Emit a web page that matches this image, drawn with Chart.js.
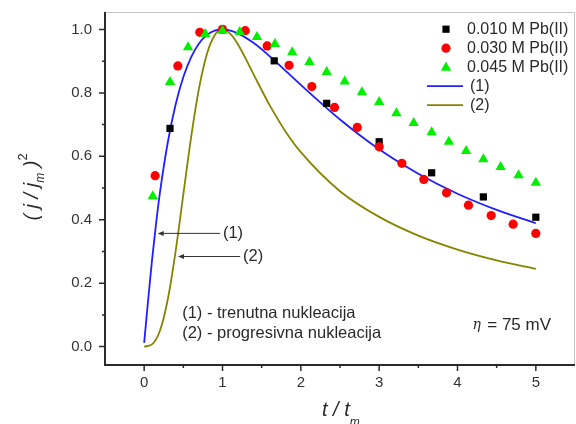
<!DOCTYPE html>
<html>
<head>
<meta charset="utf-8">
<title>Normalizovane strujne krive - nukleacija Pb(II)</title>
<script src="https://cdn.jsdelivr.net/npm/chart.js"></script>
<style>
  html, body { margin: 0; padding: 0; background: #fff; }
</style>
</head>
<body>
<canvas id="chart" width="576" height="424"></canvas>
<script>
// teorijske krive: (1) trenutna, (2) progresivna nukleacija
var instX = [0, 0.05, 0.1, 0.15, 0.2, 0.3, 0.4, 0.5, 0.6, 0.7, 0.8, 0.9, 1.0, 1.2, 1.4, 1.6, 1.8, 2.0, 2.5, 3.0, 3.5, 4.0, 4.5, 5.0];
var instY = [0.012, 0.145, 0.272, 0.384, 0.483, 0.642, 0.762, 0.850, 0.913, 0.956, 0.982, 0.996, 1.0, 0.987, 0.957, 0.916, 0.871, 0.825, 0.716, 0.622, 0.545, 0.482, 0.431, 0.389];
var progX = [0, 0.1, 0.2, 0.3, 0.4, 0.5, 0.6, 0.7, 0.8, 0.9, 1.0, 1.1, 1.2, 1.4, 1.6, 1.8, 2.0, 2.5, 3.0, 3.5, 4.0, 4.5, 5.0];
var progY = [0, 0.007, 0.049, 0.147, 0.298, 0.480, 0.661, 0.814, 0.922, 0.982, 1.0, 0.986, 0.952, 0.857, 0.762, 0.680, 0.613, 0.490, 0.409, 0.350, 0.306, 0.272, 0.245];

// eksperimentalne tacke
var x010 = [0.33, 1.0, 1.66, 2.33, 3.0, 3.67, 4.33, 5.0];
var y010 = [0.688, 1.0, 0.901, 0.767, 0.646, 0.548, 0.472, 0.408];
var x030 = [0.14, 0.43, 0.71, 1.0, 1.29, 1.57, 1.85, 2.14, 2.43, 2.72, 3.0, 3.29, 3.57, 3.86, 4.14, 4.43, 4.71, 5.0];
var y030 = [0.539, 0.885, 0.991, 1.0, 0.996, 0.948, 0.887, 0.820, 0.754, 0.691, 0.630, 0.578, 0.527, 0.485, 0.446, 0.413, 0.386, 0.357];
var x045 = [0.11, 0.33, 0.56, 0.78, 1.0, 1.22, 1.44, 1.67, 1.89, 2.11, 2.33, 2.56, 2.78, 3.0, 3.22, 3.44, 3.67, 3.89, 4.11, 4.33, 4.55, 4.78, 5.0];
var y045 = [0.474, 0.834, 0.944, 0.986, 0.996, 0.992, 0.976, 0.954, 0.928, 0.897, 0.866, 0.836, 0.802, 0.771, 0.736, 0.705, 0.676, 0.646, 0.617, 0.591, 0.566, 0.540, 0.517];

var legendLabels = ['0.010 M Pb(II)', '0.030 M Pb(II)', '0.045 M Pb(II)', '(1)', '(2)'];
var xTicks = [0, 1, 2, 3, 4, 5];
var yTicks = [0, 0.2, 0.4, 0.6, 0.8, 1.0];

var BLUE = '#1f1fff', OLIVE = '#858500', GREEN = '#00f000';
var FONT = '"Liberation Sans", Arial, sans-serif';

function pts(xs, ys) {
    return xs.map(function (x, i) { return { x: x, y: ys[i] }; });
}

function drawSym(ctx, kind, color, x, y) {
    ctx.fillStyle = color;
    ctx.beginPath();
    if (kind === 'rect') {
        ctx.rect(x - 3.6, y - 3.6, 7.2, 7.2);
    } else if (kind === 'circle') {
        ctx.arc(x, y, 4.6, 0, Math.PI * 2);
    } else {
        ctx.moveTo(x, y - 5.6);
        ctx.lineTo(x + 5.2, y + 3.6);
        ctx.lineTo(x - 5.2, y + 3.6);
        ctx.closePath();
    }
    ctx.fill();
}

// okvir, podeoci, legenda i tekstovi
var decor = {
    id: 'decor',
    afterDraw: function (chart) {
        var ctx = chart.ctx, ca = chart.chartArea;
        var xs = chart.scales.x, ys = chart.scales.y;
        ctx.save();

        ctx.strokeStyle = '#c4c4c4';
        ctx.lineWidth = 1;
        ctx.beginPath();
        ctx.moveTo(ca.left, ca.top + 0.5);
        ctx.lineTo(ca.right - 0.5, ca.top + 0.5);
        ctx.lineTo(ca.right - 0.5, ca.bottom);
        ctx.stroke();

        ctx.strokeStyle = '#2a2a2a';
        ctx.lineWidth = 2;
        ctx.beginPath();
        ctx.moveTo(ca.left, ca.top);
        ctx.lineTo(ca.left, ca.bottom);
        ctx.lineTo(ca.right, ca.bottom);
        ctx.stroke();

        ctx.lineWidth = 1.5;
        ctx.beginPath();
        xTicks.forEach(function (v, i) {
            var p = xs.getPixelForValue(v);
            ctx.moveTo(p, ca.bottom); ctx.lineTo(p, ca.bottom + 6);
            if (i < xTicks.length - 1) {
                var m = xs.getPixelForValue((v + xTicks[i + 1]) / 2);
                ctx.moveTo(m, ca.bottom); ctx.lineTo(m, ca.bottom + 3);
            }
        });
        yTicks.forEach(function (v, i) {
            var p = ys.getPixelForValue(v);
            ctx.moveTo(ca.left, p); ctx.lineTo(ca.left - 6, p);
            if (i < yTicks.length - 1) {
                var m = ys.getPixelForValue((v + yTicks[i + 1]) / 2);
                ctx.moveTo(ca.left, m); ctx.lineTo(ca.left - 3, m);
            }
        });
        ctx.stroke();

        // legenda
        var syms = [['rect', '#000'], ['circle', '#ff0000'], ['tri', GREEN]];
        var lx = ca.right - 129, rowY = ca.top + 17.2, step = 19;
        ctx.font = '16px ' + FONT;
        ctx.textBaseline = 'middle';
        legendLabels.forEach(function (lab, i) {
            var y = rowY + i * step;
            if (i < 3) {
                drawSym(ctx, syms[i][0], syms[i][1], lx, y);
                ctx.fillStyle = '#2a2a2a';
                ctx.fillText(lab, lx + 21, y);
            } else {
                ctx.strokeStyle = i === 3 ? BLUE : OLIVE;
                ctx.lineWidth = 1.8;
                ctx.beginPath();
                ctx.moveTo(lx - 19, y); ctx.lineTo(lx + 17, y);
                ctx.stroke();
                ctx.fillStyle = '#2a2a2a';
                ctx.fillText(lab, lx + 24, y);
            }
        });

        // strelice
        ctx.strokeStyle = '#333';
        ctx.lineWidth = 1;
        [[0.97, 0.173, 0.357, '(1)', 1.005], [1.225, 0.433, 0.284, '(2)', 1.263]].forEach(function (a) {
            var x0 = xs.getPixelForValue(a[0]), x1 = xs.getPixelForValue(a[1]), y = ys.getPixelForValue(a[2]);
            ctx.beginPath();
            ctx.moveTo(x0, y); ctx.lineTo(x1 + 4, y);
            ctx.stroke();
            ctx.fillStyle = '#333';
            ctx.beginPath();
            ctx.moveTo(x1, y); ctx.lineTo(x1 + 6, y - 2.5); ctx.lineTo(x1 + 6, y + 2.5);
            ctx.closePath();
            ctx.fill();
            ctx.font = '16.5px ' + FONT;
            ctx.fillStyle = '#2a2a2a';
            ctx.fillText(a[3], xs.getPixelForValue(a[4]), y);
        });

        ctx.font = '16.5px ' + FONT;
        ctx.fillStyle = '#2a2a2a';
        ctx.fillText('(1) - trenutna nukleacija', xs.getPixelForValue(0.485), ys.getPixelForValue(0.106));
        ctx.fillText('(2) - progresivna nukleacija', xs.getPixelForValue(0.485), ys.getPixelForValue(0.043));
        ctx.font = 'italic 14px "DejaVu Serif", serif';
        ctx.fillText('\u03B7', xs.getPixelForValue(4.19), ys.getPixelForValue(0.068));
        ctx.font = '17px ' + FONT;
        ctx.fillText('= 75 mV', xs.getPixelForValue(4.38), ys.getPixelForValue(0.068));

        // naslovi osa
        ctx.textBaseline = 'alphabetic';
        var big = 'italic 20px ' + FONT, small = 'italic 12px ' + FONT, up = '13px ' + FONT;
        var tx = 322;
        ctx.font = big; ctx.fillText('t / t', tx, 416);
        tx += ctx.measureText('t / t').width;
        ctx.font = small; ctx.fillText('m', tx, 426);

        ctx.translate(38, 187);
        ctx.rotate(-Math.PI / 2);
        var parts = [['( j / j', big, 0], ['m', small, 6], [' )', big, 0], ['2', up, -11]];
        var w = 0;
        parts.forEach(function (p) { ctx.font = p[1]; w += ctx.measureText(p[0]).width; });
        var cx = -w / 2;
        parts.forEach(function (p) {
            ctx.font = p[1];
            ctx.fillText(p[0], cx, p[2]);
            cx += ctx.measureText(p[0]).width;
        });
        ctx.restore();
    }
};

var ctx = document.getElementById('chart').getContext('2d');
var chart = new Chart(ctx, {
    type: 'scatter',
    data: {
        datasets: [
            { label: legendLabels[0], data: pts(x010, y010), pointStyle: 'rect', pointRadius: 5.1, backgroundColor: '#000', borderWidth: 0, order: 3 },
            { label: legendLabels[1], data: pts(x030, y030), pointStyle: 'circle', pointRadius: 4.6, backgroundColor: '#ff0000', borderWidth: 0, order: 2 },
            { label: legendLabels[2], data: pts(x045, y045), pointStyle: 'triangle', pointRadius: 6, backgroundColor: GREEN, borderWidth: 0, order: 1 },
            { type: 'line', label: legendLabels[3], data: pts(instX, instY), borderColor: BLUE, borderWidth: 1.8, pointRadius: 0, cubicInterpolationMode: 'monotone', fill: false, order: 5 },
            { type: 'line', label: legendLabels[4], data: pts(progX, progY), borderColor: OLIVE, borderWidth: 1.8, pointRadius: 0, cubicInterpolationMode: 'monotone', fill: false, order: 6 }
        ]
    },
    options: {
        responsive: false,
        animation: false,
        layout: { autoPadding: false, padding: { top: 12, right: 1, left: 0, bottom: 0 } },
        plugins: { legend: { display: false }, tooltip: { enabled: false } },
        scales: {
            x: {
                type: 'linear', min: -0.5, max: 5.5,
                afterBuildTicks: function (s) { s.ticks = xTicks.map(function (v) { return { value: v }; }); },
                afterFit: function (s) { s.height = 59; s.paddingLeft = 0; s.paddingRight = 0; },
                grid: { display: false, drawTicks: false },
                border: { display: false },
                ticks: { padding: 9, color: '#333', font: { family: FONT, size: 15 }, callback: function (v) { return String(v); } }
            },
            y: {
                type: 'linear', min: -0.058, max: 1.055,
                afterBuildTicks: function (s) { s.ticks = yTicks.map(function (v) { return { value: v }; }); },
                afterFit: function (s) { s.width = 105; s.paddingTop = 0; s.paddingBottom = 0; },
                grid: { display: false, drawTicks: false },
                border: { display: false },
                ticks: { padding: 13, color: '#333', font: { family: FONT, size: 15 }, callback: function (v) { return v.toFixed(1); } }
            }
        }
    },
    plugins: [decor]
});
</script>
</body>
</html>
